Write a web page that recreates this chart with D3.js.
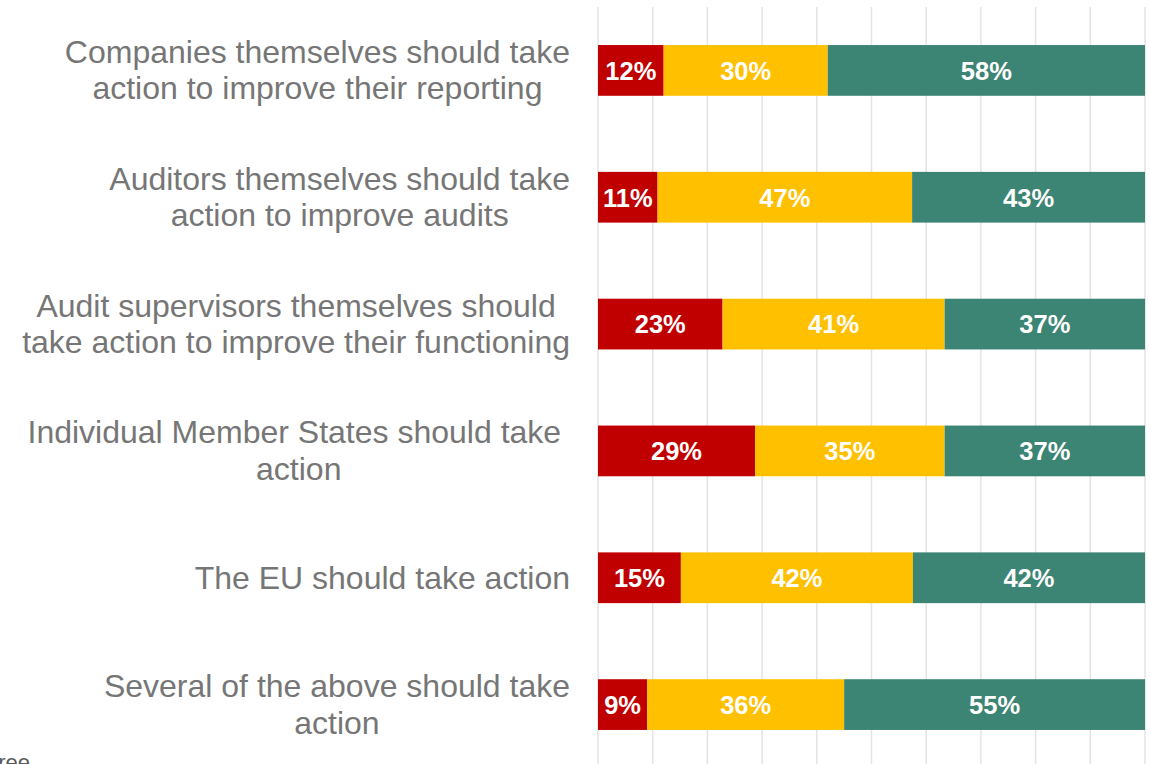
<!DOCTYPE html>
<html>
<head>
<meta charset="utf-8">
<script src="https://cdn.jsdelivr.net/npm/d3@7"></script>
<style>
  html, body { margin: 0; padding: 0; background: #ffffff; }
  svg { display: block; }
  .cat-label { font-family: "Liberation Sans", Arial, sans-serif; font-size: 32px; fill: #767676; white-space: pre; }
  .val-label { font-family: "Liberation Sans", Arial, sans-serif; font-size: 25.5px; font-weight: bold; fill: #ffffff; }
  .legend-text { font-family: "Liberation Sans", Arial, sans-serif; font-size: 22px; fill: #595959; }
</style>
</head>
<body>
<div id="chart"></div>
<script>
// Survey statements, top to bottom, each split into its wrapped lines
const categories = [
  "Companies themselves should take action to improve their reporting",
  "Auditors themselves should take action to improve audits",
  "Audit supervisors themselves should take action to improve their functioning",
  "Individual Member States should take action",
  "The EU should take action",
  "Several of the above should take action"
];
const categoryLines = [
  ["Companies themselves should take", "action to improve their reporting"],
  ["Auditors themselves should take", "action to improve audits"],
  ["Audit supervisors themselves should", "take action to improve their functioning"],
  ["Individual Member States should take ", "action"],
  ["The EU should take action"],
  ["Several of the above should take", "action"]
];

// Share of responses (%) per statement
const disagree = [12, 11, 23, 29, 15, 9];
const neutral  = [30, 47, 41, 35, 42, 36];
const agree    = [58, 43, 37, 37, 42, 55];

const seriesKeys   = ["disagree", "neutral", "agree"];
const seriesColors = ["#C00000", "#FFC000", "#3C8474"];
const legendLabels = ["Disagree", "Neither agree nor disagree", "Agree"];

const width = 1150, height = 764;
const plot = { left: 598, right: 1145, top: 7, bottom: 768 };

const rows = categories.map((c, i) => ({
  category: c, disagree: disagree[i], neutral: neutral[i], agree: agree[i]
}));

// 100% stacked: each row is normalised to its own total
const stacked = d3.stack()
  .keys(seriesKeys)
  .offset(d3.stackOffsetExpand)(rows);

const x = d3.scaleLinear().domain([0, 1]).range([plot.left, plot.right]);
const y = d3.scaleBand()
  .domain(categories)
  .range([plot.top, plot.bottom])
  .paddingInner(0.6)
  .paddingOuter(0.3);

const svg = d3.select("#chart").append("svg")
  .attr("width", width).attr("height", height);

// vertical gridlines every 10%
svg.append("g").attr("class", "grid")
  .selectAll("line")
  .data(x.ticks(10))
  .join("line")
  .attr("x1", d => x(d)).attr("x2", d => x(d))
  .attr("y1", plot.top).attr("y2", plot.bottom)
  .attr("stroke", "#E3E3E3")
  .attr("stroke-width", 1.5);

// stacked segments
const layers = svg.append("g").selectAll("g")
  .data(stacked)
  .join("g")
  .attr("fill", (d, i) => seriesColors[i]);

layers.selectAll("rect")
  .data(d => d.map(p => ({ p, key: d.key })))
  .join("rect")
  .attr("x", d => x(d.p[0]))
  .attr("width", d => x(d.p[1]) - x(d.p[0]))
  .attr("y", d => y(d.p.data.category))
  .attr("height", y.bandwidth());

// value labels centred in each segment
layers.selectAll("text")
  .data(d => d.map(p => ({ p, key: d.key })))
  .join("text")
  .attr("class", "val-label")
  .attr("text-anchor", "middle")
  .attr("x", d => (x(d.p[0]) + x(d.p[1])) / 2)
  .attr("y", d => y(d.p.data.category) + y.bandwidth() / 2 + 9.3)
  .text(d => d.p.data[d.key] + "%");

// category labels: block right-aligned to the axis, lines centred within it
const labelRight = 570;
const lineGap = 36.5;
const labels = svg.append("g").selectAll("text")
  .data(categories)
  .join("text")
  .attr("class", "cat-label")
  .attr("text-anchor", "middle");

labels.each(function(c, i) {
  const t = d3.select(this);
  const lines = categoryLines[i];
  const cy = y(c) + y.bandwidth() / 2;
  const firstBase = cy - (lines.length - 1) * lineGap / 2 + 10.8;
  const spans = lines.map((ln, k) =>
    t.append("tspan").attr("y", firstBase + k * lineGap).text(ln));
  const maxW = d3.max(spans, s => s.node().getComputedTextLength());
  spans.forEach(s => s.attr("x", labelRight - maxW / 2));
});

// legend row (mostly below the visible area)
svg.append("text")
  .attr("class", "legend-text")
  .attr("text-anchor", "end")
  .attr("x", 30)
  .attr("y", 770)
  .text(legendLabels[2]);
</script>
</body>
</html>
